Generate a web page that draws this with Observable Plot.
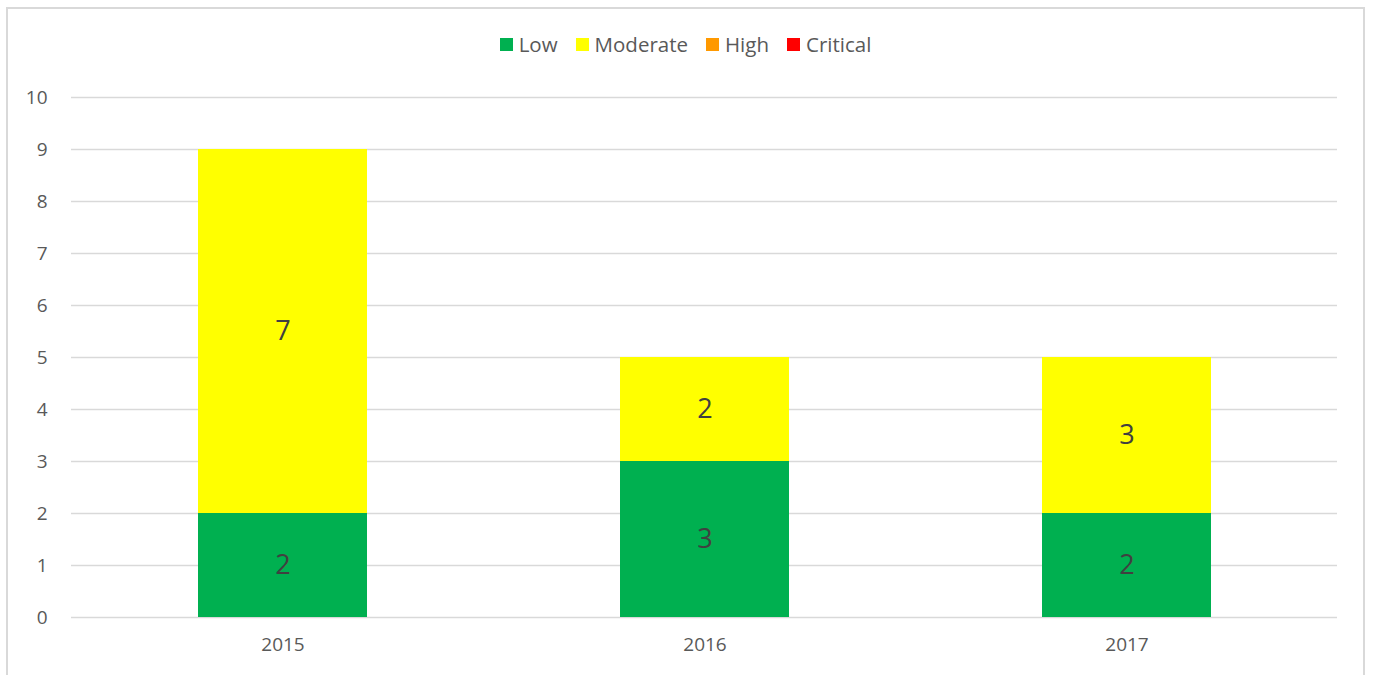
<!DOCTYPE html>
<html>
<head>
<meta charset="utf-8">
<script src="https://cdn.jsdelivr.net/npm/d3@7"></script>
<script src="https://cdn.jsdelivr.net/npm/@observablehq/plot@0.6"></script>
<style>
  html, body { margin: 0; padding: 0; background: #fff; overflow: hidden; }
  #frame {
    position: absolute; left: 6px; top: 7px; width: 1359px; height: 700px;
    border: 2px solid #d9d9d9; box-sizing: border-box; background: #fff;
  }
  #legend {
    height: 70px; display: flex; justify-content: center; align-items: center;
    font-family: "Open Sans", sans-serif; font-size: 20.5px; color: #595959;
    box-sizing: border-box; padding-top: 0px;
  }
  .item { display: flex; align-items: center; margin: 0 9px; }
  .sw { width: 13px; height: 13px; margin-right: 6px; }
  #chart svg { display: block; }
</style>
</head>
<body>
<div id="frame">
  <div id="legend"></div>
  <div id="chart"></div>
</div>
<script>
const years = ["2015", "2016", "2017"];
const severities = ["Low", "Moderate", "High", "Critical"];
const colors = ["#00B050", "#FFFF00", "#FF9900", "#FF0000"];
const low = [2, 3, 2];
const moderate = [7, 2, 3];
const high = [0, 0, 0];
const critical = [0, 0, 0];
const yTicks = [0, 1, 2, 3, 4, 5, 6, 7, 8, 9, 10];

const seriesValues = [low, moderate, high, critical];
const data = [];
severities.forEach((s, si) => {
  years.forEach((y, yi) => {
    data.push({year: y, severity: s, value: seriesValues[si][yi]});
  });
});

// Legend
const legend = document.getElementById("legend");
severities.forEach((s, i) => {
  const it = document.createElement("div");
  it.className = "item";
  const sw = document.createElement("div");
  sw.className = "sw";
  sw.style.background = colors[i];
  const lab = document.createElement("span");
  lab.textContent = s;
  it.appendChild(sw);
  it.appendChild(lab);
  legend.appendChild(it);
});

const chart = Plot.plot({
  width: 1355,
  height: 590,
  marginTop: 18,
  marginBottom: 52,
  marginLeft: 63,
  marginRight: 26,
  style: {fontFamily: "Open Sans, sans-serif", fontSize: "19px", color: "#595959", background: "#fff"},
  x: {domain: years, paddingInner: 0.6, paddingOuter: 0.3, label: null},
  y: {domain: [0, 10], label: null},
  color: {domain: severities, range: colors},
  marks: [
    Plot.gridY(yTicks, {stroke: "#d9d9d9", strokeOpacity: 1, strokeWidth: 1.3}),
    Plot.barY(data, Plot.stackY({x: "year", y: "value", fill: "severity", z: "severity", order: severities})),
    Plot.text(data, Plot.stackY({
      x: "year", y: "value", z: "severity", order: severities,
      text: d => d.value > 0 ? String(d.value) : null,
      fill: "#404040", fontSize: 27, fontFamily: "Open Sans, sans-serif"
    })),
    Plot.axisY(yTicks, {tickSize: 0, tickPadding: 24, fill: "#595959", fontSize: 19, tickFormat: d => String(d)}),
    Plot.axisX({tickSize: 0, tickPadding: 20, fill: "#595959", fontSize: 19})
  ]
});
document.getElementById("chart").appendChild(chart);
</script>
</body>
</html>
